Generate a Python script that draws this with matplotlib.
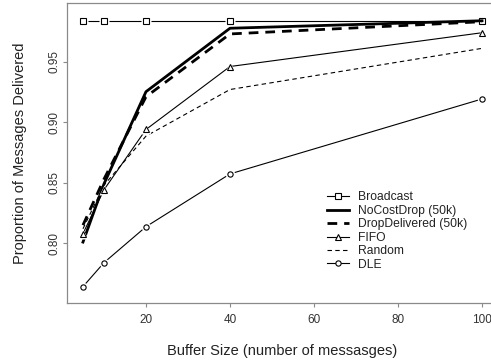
import numpy as np
import matplotlib
matplotlib.use("Agg")
import matplotlib.pyplot as plt

plt.rcParams['font.family'] = ['Liberation Sans', 'DejaVu Sans']

buffer_size = [5, 10, 20, 40, 100]
broadcast = [0.9838, 0.9838, 0.9838, 0.9838, 0.9838]
nocostdrop = [0.8010, 0.8490, 0.9252, 0.9776, 0.9838]
dropdelivered = [0.8150, 0.8530, 0.9210, 0.9729, 0.9830]
fifo = [0.8080, 0.8442, 0.8940, 0.9460, 0.9739]
random_ = [0.8120, 0.8480, 0.8885, 0.9270, 0.9610]
dle = [0.7642, 0.7840, 0.8137, 0.8573, 0.9192]

W, H = 491, 364
fig = plt.figure(figsize=(W / 100, H / 100), dpi=100)
# plot box runs a little past the right edge, as in the reference
ax = fig.add_axes([67 / W, (H - 303) / H, 431 / W, 300.3 / H])

grey = '#8a8a8a'
ms = 3.8


def marked(x, y, marker, label, z):
    # R type="b": line with small gaps around the points
    ax.plot(x, y, color='black', lw=0.8, zorder=z)
    ax.plot(x, y, ls='none', marker=marker, ms=ms + 3, mfc='white',
            mec='none', zorder=z + 0.1)
    ax.plot(x, y, ls='none', marker=marker, ms=ms, mfc='none',
            mec='black', mew=0.8, zorder=z + 0.2)
    ax.plot([], [], color='black', lw=0.8, marker=marker, ms=ms,
            mfc='white', mec='black', mew=0.8, label=label)


marked(buffer_size, broadcast, 's', 'Broadcast', 2)
ax.plot(buffer_size, nocostdrop, color='black', lw=2.0, zorder=3,
        label='NoCostDrop (50k)')
ax.plot(buffer_size, dropdelivered, color='black', lw=2.0, ls=(0, (3.5, 2.5)),
        zorder=3, label='DropDelivered (50k)')
marked(buffer_size, fifo, '^', 'FIFO', 4)
ax.plot(buffer_size, random_, color='black', lw=0.8, ls=(0, (4, 3)),
        zorder=3, label='Random')
marked(buffer_size, dle, 'o', 'DLE', 5)

ax.set_xlim(1.2, 103.8)
ax.set_ylim(0.7507, 0.9987)
ax.set_xticks([20, 40, 60, 80, 100])
ax.set_yticks([0.80, 0.85, 0.90, 0.95])
ax.set_yticklabels(['0.80', '0.85', '0.90', '0.95'], rotation=90, va='center')

for s in ax.spines.values():
    s.set_color(grey)
    s.set_linewidth(0.9)
ax.tick_params(colors=grey, labelcolor='#333333', labelsize=8.5, length=3,
               width=0.8)
ax.tick_params(axis='x', pad=5)
ax.tick_params(axis='y', pad=2)

ax.set_xlabel('Buffer Size (number of messasges)', fontsize=10.5,
              color='#222222', labelpad=13)
ax.set_ylabel('Proportion of Messages Delivered', fontsize=10.5,
              color='#222222', labelpad=15)

leg = ax.legend(loc='upper left', bbox_to_anchor=(319 / W, 1 - 183 / H),
                bbox_transform=fig.transFigure, frameon=False, fontsize=8.7,
                handlelength=1.8, handletextpad=0.7, labelspacing=0.12,
                borderpad=0.2)
for t in leg.get_texts():
    t.set_color('#222222')

fig.savefig('out.png', dpi=100, facecolor='white')
